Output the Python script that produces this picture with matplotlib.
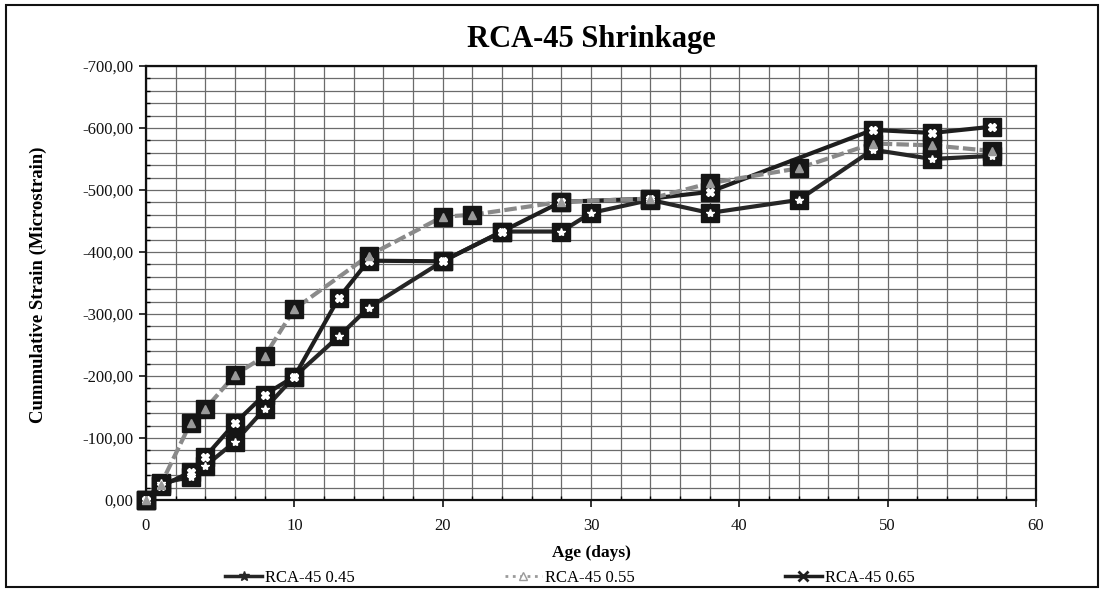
import matplotlib
matplotlib.use('Agg')
import matplotlib.pyplot as plt
from matplotlib.lines import Line2D
from matplotlib.ticker import FuncFormatter, MultipleLocator
from matplotlib.patches import Rectangle

plt.rcParams['font.family'] = ['Liberation Serif', 'DejaVu Serif']

# shrinkage readings (microstrain) against age in days
days_45 = [0, 1, 3, 4, 6, 8, 10, 13, 15, 20, 24, 28, 30, 34, 38, 44, 49, 53, 57]
strain_45 = [0, -27, -37, -55, -94, -147, -199, -264, -310, -385, -433, -433, -463, -484, -463, -484, -565, -550, -555]

days_55 = [0, 1, 3, 4, 6, 8, 10, 15, 20, 22, 28, 34, 38, 44, 49, 53, 57]
strain_55 = [0, -25, -124, -147, -202, -232, -308, -394, -457, -460, -481, -486, -511, -535, -575, -572, -563]

days_65 = [0, 1, 3, 4, 6, 8, 10, 13, 15, 20, 24, 28, 34, 38, 49, 53, 57]
strain_65 = [0, -22, -45, -70, -124, -170, -199, -326, -386, -385, -433, -481, -486, -497, -597, -592, -602]

labels = ['RCA-45 0.45', 'RCA-45 0.55', 'RCA-45 0.65']

fig = plt.figure(figsize=(11.06, 5.91), dpi=100)
W, H = 1106, 591
ax = fig.add_axes([146/W, 1-500/H, 890/W, 434/H])

# outer frame of the chart
fig.patches.append(Rectangle((6/W, 4/H), 1092/W, 582/H, transform=fig.transFigure,
                             fill=False, ec='#111111', lw=1.5))

ax.set_axisbelow(True)
ax.xaxis.set_major_locator(MultipleLocator(10))
ax.xaxis.set_minor_locator(MultipleLocator(2))
ax.yaxis.set_major_locator(MultipleLocator(100))
ax.yaxis.set_minor_locator(MultipleLocator(20))
ax.grid(which='both', color='0.42', lw=0.9)

series = [
    (days_45, strain_45, '#262626', '-', '*', 'white'),
    (days_65, strain_65, '#1e1e1e', '-', 'X', 'white'),
    (days_55, strain_55, '#8a8a8a', (0, (3, 1)), '^', '#9a9a9a'),
]
for d, s, c, ls, m, mc in series:
    ax.plot(d, s, color=c, lw=3, ls=ls, marker='s', ms=12.5,
            mfc='#151515', mec='#151515', zorder=3, clip_on=False)
    ax.plot(d, s, ls='none', marker=m, ms=6, mfc=mc, mec=mc, zorder=4, clip_on=False)

ax.set_xlim(0, 60)
ax.set_ylim(0, -700)
ax.yaxis.set_major_formatter(FuncFormatter(lambda v, p: f"{v:.2f}".replace('.', ',')))
ax.tick_params(which='major', direction='out', length=5, width=1.2, labelsize=12, colors='#111111')
ax.tick_params(which='minor', direction='in', length=3, width=1)
ax.tick_params(axis='x', pad=8)
ax.tick_params(axis='y', pad=4)
for sp in ax.spines.values():
    sp.set_linewidth(1.6)
    sp.set_color('#111111')

fig.text(591/W, 1-40/H, 'RCA-45 Shrinkage', ha='center', va='center',
         fontsize=22, fontweight='bold')
fig.text(38/W, 1-285/H, 'Cummulative Strain (Microstrain)', rotation=90,
         ha='center', va='center', fontsize=13.5, fontweight='bold')
fig.text(591/W, 1-553/H, 'Age (days)', ha='center', va='center',
         fontsize=12.5, fontweight='bold')

handles = [
    Line2D([], [], color='#262626', lw=2.5, marker='*', ms=7),
    Line2D([], [], color='#9a9a9a', lw=2, ls=':', marker='^', ms=6, mfc='white'),
    Line2D([], [], color='#1e1e1e', lw=2.5, marker='x', ms=7, mew=2),
]
fig.legend(handles, labels, loc='center', bbox_to_anchor=(570/W, 1-578/H), ncol=3,
           frameon=False, fontsize=12, handlelength=2.2, columnspacing=9, handletextpad=0.2)

fig.savefig('out.png', dpi=100)
